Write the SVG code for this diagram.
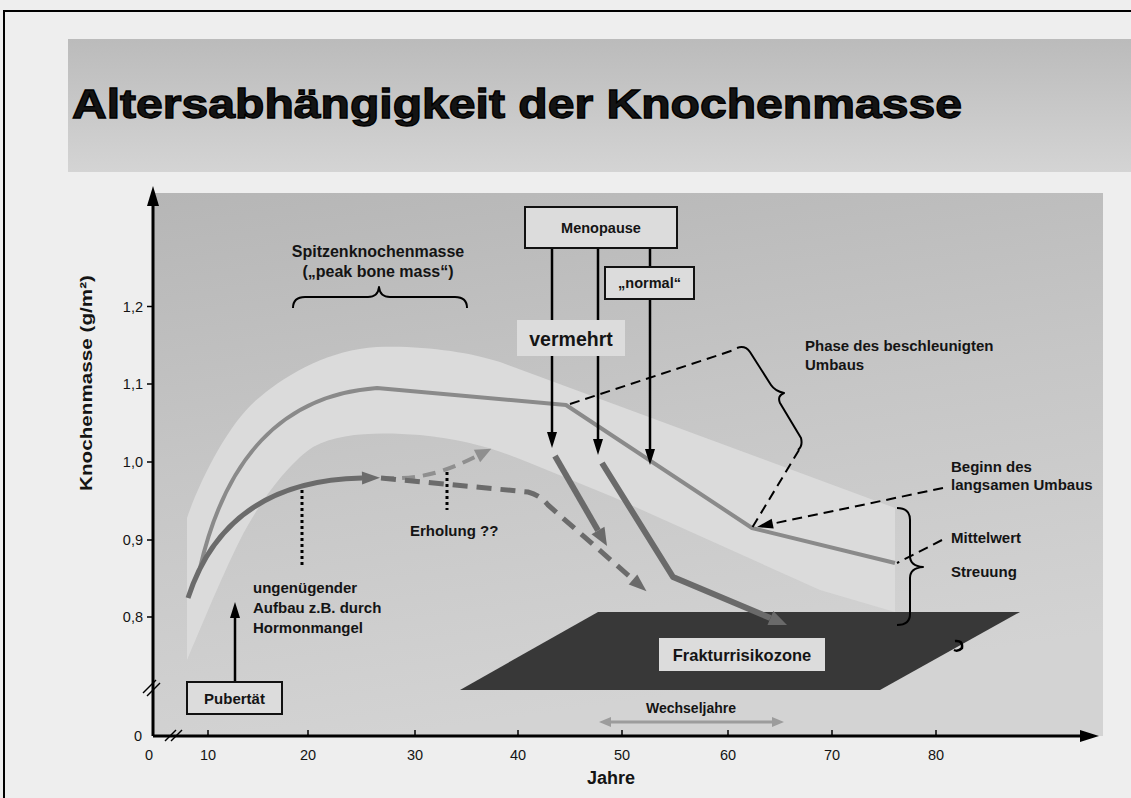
<svg xmlns="http://www.w3.org/2000/svg" width="1131" height="798" viewBox="0 0 1131 798">
<style>
.t{font-family:"Liberation Sans",Arial,sans-serif;fill:#141414}
.lbl{font-size:15px;font-weight:bold}
.tick{font-size:14.5px}
.box{fill:#dcdcdc;stroke:#111;stroke-width:2}
.ax{stroke:#000;stroke-width:3;fill:none}
.blk{stroke:#000;stroke-width:2.5;fill:none}
.dsh{stroke:#000;stroke-width:2;fill:none;stroke-dasharray:10 6}
.brace{stroke:#000;stroke-width:2;fill:none;stroke-linejoin:round}
.dark{stroke:#6a6a6a;stroke-width:6;fill:none}
.mean{stroke:#8a8a8a;stroke-width:4;fill:none;stroke-linejoin:round}
</style>
<defs>
<linearGradient id="titleG" x1="0" y1="0" x2="0" y2="1">
<stop offset="0" stop-color="#bbbbbb"/><stop offset="1" stop-color="#d4d4d4"/>
</linearGradient>
<linearGradient id="plotG" x1="0" y1="0" x2="0.25" y2="1">
<stop offset="0" stop-color="#b6b6b6"/><stop offset="0.5" stop-color="#c6c6c6"/><stop offset="1" stop-color="#d3d3d3"/>
</linearGradient>
<marker id="aBlk" markerUnits="userSpaceOnUse" markerWidth="20" markerHeight="20" refX="0" refY="0" orient="auto" overflow="visible">
<path d="M0,-5 L16,0 L0,5 z" fill="#000"/>
</marker>
<marker id="aDark" markerUnits="userSpaceOnUse" markerWidth="20" markerHeight="20" refX="0" refY="0" orient="auto" overflow="visible">
<path d="M0,-7.5 L18,0 L0,7.5 z" fill="#6a6a6a"/>
</marker>
<marker id="aDark2" markerUnits="userSpaceOnUse" markerWidth="20" markerHeight="20" refX="0" refY="0" orient="auto" overflow="visible">
<path d="M0,-6.5 L18,0 L0,6.5 z" fill="#6b6b6b"/>
</marker>
<marker id="aGray" markerUnits="userSpaceOnUse" markerWidth="20" markerHeight="20" refX="0" refY="0" orient="auto" overflow="visible">
<path d="M0,-7 L16,0 L0,7 z" fill="#8f8f8f"/>
</marker>
<marker id="aW" markerUnits="userSpaceOnUse" markerWidth="20" markerHeight="20" refX="0" refY="0" orient="auto-start-reverse" overflow="visible">
<path d="M0,-5 L12,0 L0,5 z" fill="#9c9c9c"/>
</marker>
</defs>

<g id="page">
<rect x="0" y="0" width="1131" height="798" fill="#eeeeee"/>
<path d="M4,798 L4,11 L1131,11" fill="none" stroke="#000" stroke-width="2"/>
<rect x="68" y="39" width="1063" height="133" fill="url(#titleG)"/>
<text class="t" x="72" y="118" font-size="41" font-weight="bold" stroke="#000" stroke-width="1.3" textLength="890" lengthAdjust="spacingAndGlyphs" fill="#000">Altersabhängigkeit der Knochenmasse</text>
</g>

<g id="plot">
<rect x="154" y="193" width="949" height="543" fill="url(#plotG)"/>
<path d="M187,660 L187,518 C200,480 230,420 260,397 C290,372 330,350 377,347 C420,345 470,352 500,362 L895,508 L895,612 L820,590 L680,527 L613,497 L547,470 C500,450 470,440 420,435 C380,432 340,432 313,447 C290,462 260,500 240,540 C220,580 200,630 187,660 Z" fill="#dbdbdb"/>
</g>

<g id="axes">
<path class="ax" d="M153,736 L153,204"/>
<path d="M147,206 L153,186 L159,206 z" fill="#000"/>
<path class="ax" d="M153,736 L1082,736"/>
<path d="M1080,730 L1099,736 L1080,742 z" fill="#000"/>
<g stroke="#000" stroke-width="1.5">
<line x1="147" y1="306.5" x2="153" y2="306.5"/>
<line x1="147" y1="384" x2="153" y2="384"/>
<line x1="147" y1="462" x2="153" y2="462"/>
<line x1="147" y1="540" x2="153" y2="540"/>
<line x1="147" y1="617" x2="153" y2="617"/>
<line x1="208" y1="730" x2="208" y2="736"/>
<line x1="308" y1="730" x2="308" y2="736"/>
<line x1="415" y1="730" x2="415" y2="736"/>
<line x1="518" y1="730" x2="518" y2="736"/>
<line x1="622" y1="730" x2="622" y2="736"/>
<line x1="728" y1="730" x2="728" y2="736"/>
<line x1="832" y1="730" x2="832" y2="736"/>
<line x1="936" y1="730" x2="936" y2="736"/>
</g>
<g stroke="#000" stroke-width="1.5">
<line x1="143" y1="693" x2="156" y2="680"/>
<line x1="147" y1="696" x2="160" y2="683"/>
<line x1="165" y1="741" x2="176" y2="730"/>
<line x1="171" y1="741" x2="182" y2="730"/>
</g>
<g class="t tick" text-anchor="end">
<text x="143" y="312">1,2</text>
<text x="143" y="389">1,1</text>
<text x="143" y="467">1,0</text>
<text x="143" y="545">0,9</text>
<text x="143" y="622">0,8</text>
<text x="142" y="741">0</text>
</g>
<g class="t tick" text-anchor="middle">
<text x="149" y="760">0</text>
<text x="208" y="760">10</text>
<text x="308" y="760">20</text>
<text x="415" y="760">30</text>
<text x="518" y="760">40</text>
<text x="622" y="760">50</text>
<text x="728" y="760">60</text>
<text x="832" y="760">70</text>
<text x="936" y="760">80</text>
</g>
<text class="t" x="611" y="784" font-size="18" font-weight="bold" text-anchor="middle">Jahre</text>
<text class="t" transform="translate(92,383) rotate(-90)" font-size="17" font-weight="bold" text-anchor="middle" textLength="216" lengthAdjust="spacingAndGlyphs">Knochenmasse (g/m²)</text>
</g>

<g id="fracture-zone">
<path d="M598,612 L1020,612 L880,690 L460,690 Z" fill="#383838"/>
<path d="M955,641 Q963,640 962,648 Q958,652 954,650" fill="none" stroke="#000" stroke-width="2.5"/>
<rect x="659" y="638" width="166" height="33" fill="#dcdcdc"/>
<text class="t" x="742" y="661" font-size="16.5" font-weight="bold" text-anchor="middle">Frakturrisikozone</text>
</g>

<g id="curves">
<path class="mean" d="M200,568 C225,460 280,395 377,388 L566,405 L752,528 L895,563"/>
<path d="M188,598 C210,530 260,480 362,478" fill="none" stroke="#6b6b6b" stroke-width="5" marker-end="url(#aDark2)"/>
<path d="M381,478 C420,480 445,472 477,456" fill="none" stroke="#8f8f8f" stroke-width="4" stroke-dasharray="13 8" marker-end="url(#aGray)"/>
<path d="M381,478 L528,492 Q540,495 548,505 L633,579.5" fill="none" stroke="#6b6b6b" stroke-width="5" stroke-dasharray="15 9" marker-end="url(#aDark2)"/>
<path class="dark" d="M555,456 L598,530.4" marker-end="url(#aDark)"/>
<path class="dark" d="M602,463 L673,577 L770.4,618" stroke-linejoin="round" marker-end="url(#aDark)"/>
<line x1="302" y1="490" x2="302" y2="565" stroke="#000" stroke-width="3" stroke-dasharray="3 3"/>
<line x1="447" y1="472" x2="447" y2="510" stroke="#000" stroke-width="3" stroke-dasharray="3 3"/>
</g>

<g id="connectors">
<line class="blk" x1="552" y1="248" x2="552" y2="432" marker-end="url(#aBlk)"/>
<line class="blk" x1="598" y1="248" x2="598" y2="439" marker-end="url(#aBlk)"/>
<line class="blk" x1="650" y1="248" x2="650" y2="449" marker-end="url(#aBlk)"/>
<line class="blk" x1="235" y1="682" x2="235" y2="618" marker-end="url(#aBlk)"/>
<path class="dsh" d="M570,404 L737,349"/>
<path class="dsh" d="M799,450 L752,528"/>
<path class="dsh" d="M943,488 L772.7,523.7" marker-end="url(#aBlk)"/>
<path class="dsh" d="M942,540 L897,563"/>
<line x1="611" y1="722" x2="772" y2="722" stroke="#9c9c9c" stroke-width="3" marker-start="url(#aW)" marker-end="url(#aW)"/>
</g>

<g id="brace-peak">
<path class="brace" d="M293,308 Q293,297 305,297 L368,297 Q378,297 379,287 Q380,297 390,297 L455,297 Q467,297 467,308"/>
<text class="t" x="378" y="257" font-size="16" font-weight="bold" text-anchor="middle">Spitzenknochenmasse</text>
<text class="t" x="378" y="277" font-size="16" font-weight="bold" text-anchor="middle">(„peak bone mass“)</text>
</g>

<g id="brace-phase">
<path class="brace" d="M737,348 Q745,345 750,352 L771,385 Q775,391 784,393 Q777,396 780,403 L801,438 Q803,446 798,450"/>
<text class="t lbl" x="805" y="351">Phase des beschleunigten</text>
<text class="t lbl" x="805" y="370">Umbaus</text>
</g>

<g id="label-beginn">
<text class="t lbl" x="951" y="472">Beginn des</text>
<text class="t lbl" x="951" y="490">langsamen Umbaus</text>
</g>

<g id="brace-streuung">
<path class="brace" d="M897,508 Q910,508 910,520 L910,556 Q910,566 923,567 Q910,568 910,578 L910,614 Q910,625 897,625"/>
<text class="t lbl" x="951" y="543">Mittelwert</text>
<text class="t lbl" x="951" y="577">Streuung</text>
</g>

<g id="menopause">
<rect class="box" x="525" y="207" width="152" height="41"/>
<text class="t" x="601" y="233" font-size="14.5" font-weight="bold" text-anchor="middle">Menopause</text>
</g>

<g id="normal">
<rect class="box" x="605" y="267" width="89" height="32"/>
<text class="t" x="649.5" y="288" font-size="14.5" font-weight="bold" text-anchor="middle">„normal“</text>
</g>

<g id="vermehrt">
<rect x="517" y="320" width="108" height="36" fill="#dcdcdc"/>
<text class="t" x="571" y="346" font-size="19.5" font-weight="bold" text-anchor="middle">vermehrt</text>
</g>

<g id="pubertaet">
<rect class="box" x="187" y="682" width="95" height="32"/>
<text class="t" x="234.5" y="704" font-size="15" font-weight="bold" text-anchor="middle">Pubertät</text>
</g>

<g id="label-aufbau">
<text class="t lbl" x="253" y="593">ungenügender</text>
<text class="t lbl" x="253" y="613">Aufbau z.B. durch</text>
<text class="t lbl" x="253" y="633">Hormonmangel</text>
</g>

<g id="label-erholung">
<text class="t lbl" x="410" y="536">Erholung ??</text>
</g>

<g id="label-wechseljahre">
<text class="t" x="691" y="713" font-size="14" font-weight="bold" text-anchor="middle">Wechseljahre</text>
</g>
</svg>
